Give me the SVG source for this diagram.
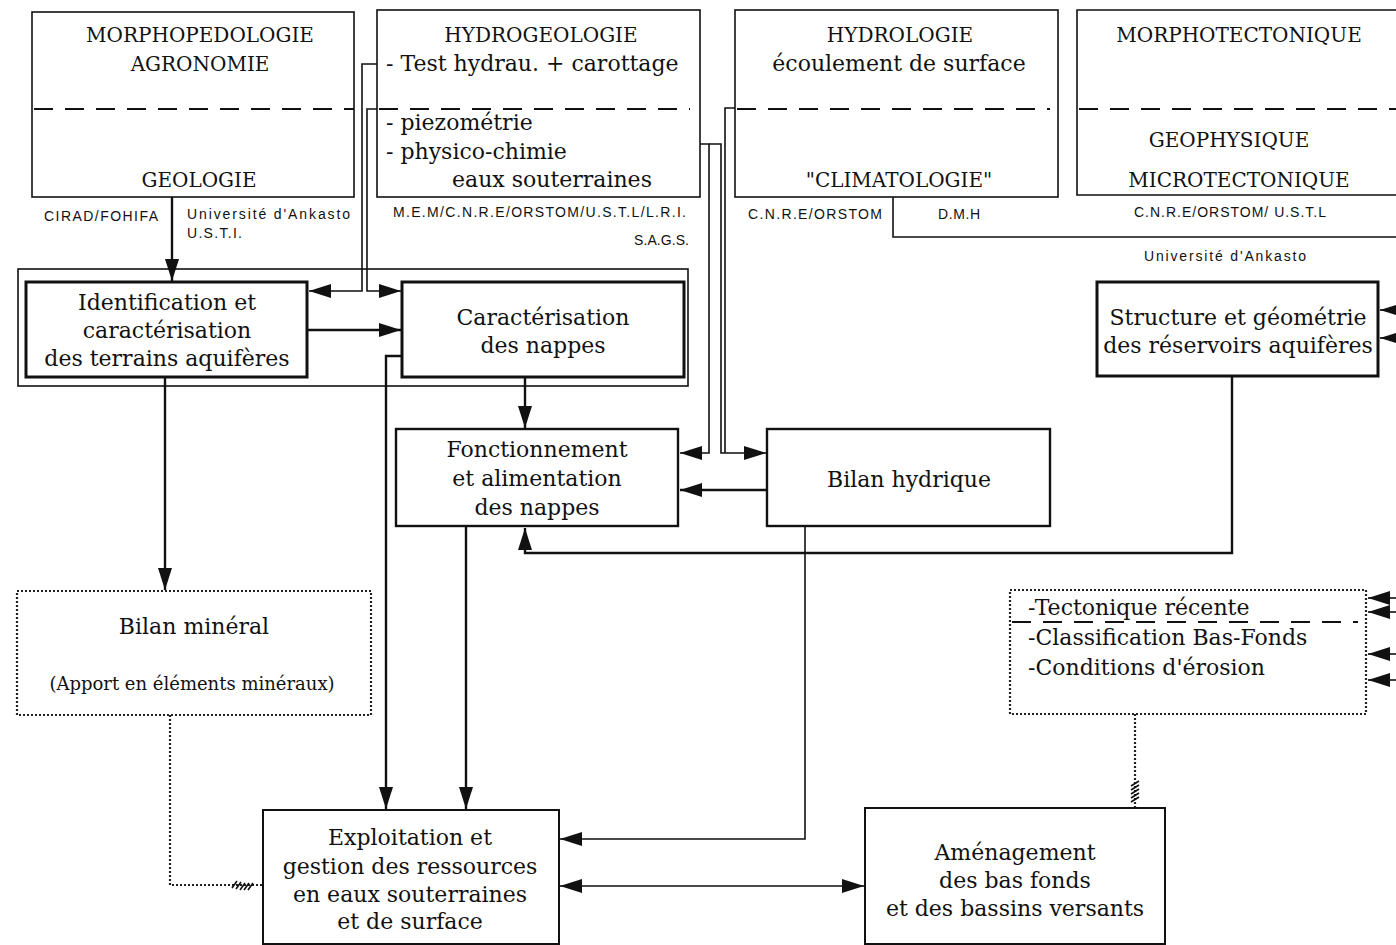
<svg xmlns="http://www.w3.org/2000/svg" width="1396" height="945" viewBox="0 0 1396 945">
<style>
.bg{fill:#fff}
.box{fill:none;stroke:#111;stroke-width:1.6}
.thick{fill:none;stroke:#111;stroke-width:3}
.med{fill:none;stroke:#111;stroke-width:2.4}
.dot{fill:none;stroke:#222;stroke-width:2.2;stroke-dasharray:2 2}
.dash{fill:none;stroke:#111;stroke-width:1.8;stroke-dasharray:19 12}
.ln{fill:none;stroke:#111;stroke-width:1.6}
.cn{fill:none;stroke:#111;stroke-width:2.4}
.t{font-family:"DejaVu Serif","Liberation Serif",serif;font-size:22px;fill:#111}
.h{font-family:"DejaVu Serif","Liberation Serif",serif;font-size:20px;fill:#111}
.s{font-family:"Liberation Sans","DejaVu Sans",sans-serif;font-size:14px;fill:#111}
.m{text-anchor:middle}
.hatch{stroke:#111;stroke-width:1.6}
</style>
<defs>
<marker id="ah" viewBox="0 0 22 14" refX="22" refY="7" markerWidth="22" markerHeight="14" markerUnits="userSpaceOnUse" orient="auto-start-reverse">
<path d="M0,0 L22,7 L0,14 z" fill="#111"/>
</marker>
</defs>
<rect class="bg" x="0" y="0" width="1396" height="945"/>

<g id="connectors">
<path class="cn" d="M172,197 V281" marker-end="url(#ah)"/>
<path class="ln" d="M377,64 H362 V291 H309" marker-end="url(#ah)"/>
<path class="ln" d="M377,109 H367 V291 H401" marker-end="url(#ah)"/>
<path class="cn" d="M307,330 H401" marker-end="url(#ah)"/>
<path class="cn" d="M402,356 H386 V809" marker-end="url(#ah)"/>
<path class="cn" d="M525,377 V428" marker-end="url(#ah)"/>
<path class="cn" d="M466,526 V809" marker-end="url(#ah)"/>
<path class="ln" d="M700,144 H709 V453 H680" marker-end="url(#ah)"/>
<path class="ln" d="M709,144 H721 V453 H766" marker-end="url(#ah)"/>
<path class="ln" d="M735,108 H725 V453"/>
<path class="cn" d="M767,490 H680" marker-end="url(#ah)"/>
<path class="ln" d="M805,526 V839 H560" marker-end="url(#ah)"/>
<path class="ln" d="M560,886 H864" marker-start="url(#ah)" marker-end="url(#ah)"/>
<path class="cn" d="M1232,376 V553 H525 V528" marker-end="url(#ah)"/>
<path class="cn" d="M165,377 V590" marker-end="url(#ah)"/>
<path class="ln" d="M893,197 V237 H1396"/>
<path class="ln" d="M1400,310 H1380" marker-end="url(#ah)"/>
<path class="ln" d="M1400,338 H1380" marker-end="url(#ah)"/>
<path class="ln" d="M1400,598 H1368" marker-end="url(#ah)"/>
<path class="ln" d="M1400,612 H1368" marker-end="url(#ah)"/>
<path class="ln" d="M1400,654 H1368" marker-end="url(#ah)"/>
<path class="ln" d="M1400,680 H1368" marker-end="url(#ah)"/>
<path class="dot" d="M170,715 V885 H262"/>
<path class="hatch" d="M232,888 L237,881 M236,889 L241,882 M240,890 L245,883 M244,890 L249,883 M248,890 L253,883"/>
<path class="dot" d="M1135,714 V808"/>
<path class="hatch" d="M1131,786 L1139,781 M1131,790 L1139,785 M1131,794 L1139,789 M1131,798 L1139,793 M1131,802 L1139,797"/>
</g>

<g id="group-frame">
<rect class="box" x="18" y="269" width="670" height="117"/>
</g>

<g id="morphopedologie">
<rect class="box" x="32" y="12" width="322" height="185"/>
<line class="dash" x1="34" y1="109" x2="354" y2="109"/>
<text class="h m" x="200" y="42">MORPHOPEDOLOGIE</text>
<text class="h m" x="200" y="71">AGRONOMIE</text>
<text class="h m" x="199" y="187">GEOLOGIE</text>
</g>
<g id="labels-morpho">
<text class="s" x="44" y="221" textLength="114">CIRAD/FOHIFA</text>
<text class="s" x="187" y="219" textLength="163">Université d'Ankasto</text>
<text class="s" x="187" y="238" textLength="55">U.S.T.I.</text>
</g>

<g id="hydrogeologie">
<rect class="box" x="377" y="10" width="323" height="187"/>
<line class="dash" x1="379" y1="109" x2="690" y2="109"/>
<text class="h m" x="541" y="42">HYDROGEOLOGIE</text>
<text class="t" x="386" y="71">- Test hydrau. + carottage</text>
<text class="t" x="386" y="130">- piezométrie</text>
<text class="t" x="386" y="159">- physico-chimie</text>
<text class="t" x="452" y="187">eaux souterraines</text>
</g>
<g id="labels-hydrogeo">
<text class="s" x="393" y="217" textLength="293">M.E.M/C.N.R.E/ORSTOM/U.S.T.L/L.R.I.</text>
<text class="s" x="634" y="245" textLength="55">S.A.G.S.</text>
</g>

<g id="hydrologie">
<rect class="box" x="735" y="10" width="323" height="187"/>
<line class="dash" x1="737" y1="109" x2="1050" y2="109"/>
<text class="h m" x="900" y="42">HYDROLOGIE</text>
<text class="t m" x="899" y="71">écoulement de surface</text>
<text class="h m" x="899" y="187">"CLIMATOLOGIE"</text>
</g>
<g id="labels-hydro">
<text class="s" x="748" y="219" textLength="134">C.N.R.E/ORSTOM</text>
<text class="s" x="938" y="219" textLength="42">D.M.H</text>
</g>

<g id="morphotectonique">
<path class="box" d="M1400,10 H1077 V195 H1400"/>
<line class="dash" x1="1079" y1="109" x2="1396" y2="109"/>
<text class="h m" x="1239" y="42">MORPHOTECTONIQUE</text>
<text class="h m" x="1229" y="147">GEOPHYSIQUE</text>
<text class="h m" x="1239" y="187">MICROTECTONIQUE</text>
</g>
<g id="labels-morphotec">
<text class="s" x="1134" y="217" textLength="192">C.N.R.E/ORSTOM/ U.S.T.L</text>
<text class="s" x="1144" y="261" textLength="162">Université d'Ankasto</text>
</g>

<g id="identification">
<rect class="thick" x="26" y="282" width="281" height="95"/>
<text class="t m" x="167" y="310">Identification et</text>
<text class="t m" x="167" y="338">caractérisation</text>
<text class="t m" x="167" y="366">des terrains aquifères</text>
</g>

<g id="caracterisation">
<rect class="thick" x="402" y="282" width="282" height="95"/>
<text class="t m" x="543" y="325">Caractérisation</text>
<text class="t m" x="543" y="353">des nappes</text>
</g>

<g id="structure">
<rect class="thick" x="1097" y="282" width="281" height="94"/>
<text class="t m" x="1238" y="325">Structure et géométrie</text>
<text class="t m" x="1238" y="353">des réservoirs aquifères</text>
</g>

<g id="fonctionnement">
<rect class="med" x="396" y="429" width="282" height="97"/>
<text class="t m" x="537" y="457">Fonctionnement</text>
<text class="t m" x="537" y="486">et alimentation</text>
<text class="t m" x="537" y="515">des nappes</text>
</g>

<g id="bilan-hydrique">
<rect class="med" x="767" y="429" width="283" height="97"/>
<text class="t m" x="909" y="487">Bilan hydrique</text>
</g>

<g id="bilan-mineral">
<rect class="dot" x="17" y="591" width="354" height="124"/>
<text class="t m" x="194" y="634">Bilan minéral</text>
<text class="t m" x="192" y="690" style="font-size:18px">(Apport en éléments minéraux)</text>
</g>

<g id="tectonique">
<rect class="dot" x="1010" y="590" width="356" height="124"/>
<line class="dash" x1="1012" y1="622" x2="1358" y2="622"/>
<text class="t" x="1028" y="615">-Tectonique récente</text>
<text class="t" x="1028" y="645">-Classification Bas-Fonds</text>
<text class="t" x="1028" y="675">-Conditions d'érosion</text>
</g>

<g id="exploitation">
<rect class="box" x="263" y="810" width="296" height="134" style="stroke-width:2"/>
<text class="t m" x="410" y="845">Exploitation et</text>
<text class="t m" x="410" y="874">gestion des ressources</text>
<text class="t m" x="410" y="902">en eaux souterraines</text>
<text class="t m" x="410" y="929">et de surface</text>
</g>

<g id="amenagement">
<rect class="box" x="865" y="808" width="300" height="136" style="stroke-width:2"/>
<text class="t m" x="1015" y="860">Aménagement</text>
<text class="t m" x="1015" y="888">des bas fonds</text>
<text class="t m" x="1015" y="916">et des bassins versants</text>
</g>
</svg>
